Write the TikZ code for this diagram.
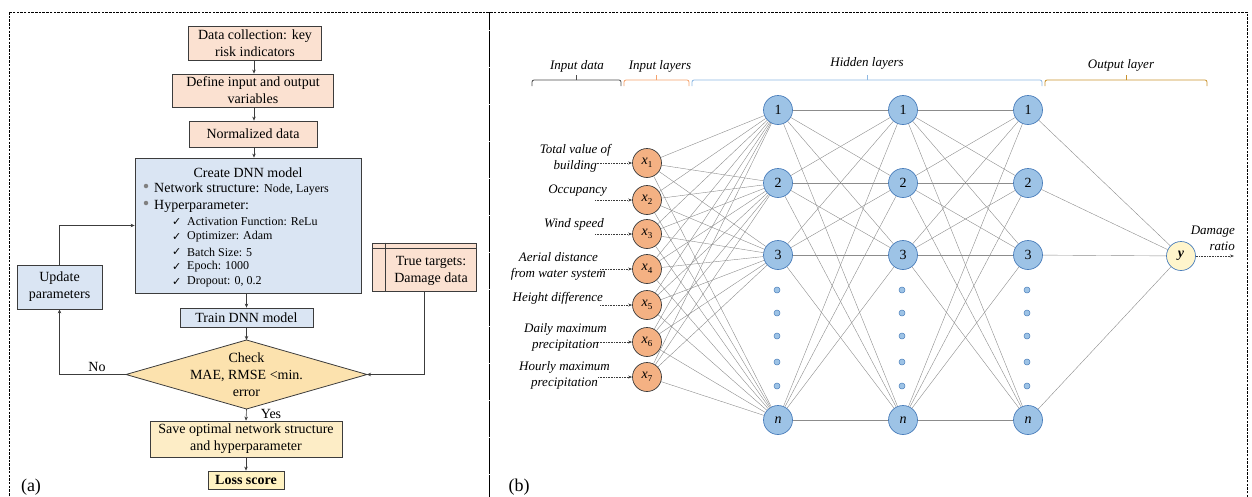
\documentclass[tikz,border=0pt]{standalone}
\usepackage{fontspec}
\setmainfont{Liberation Serif}
\newfontfamily\symfont{DejaVu Sans}
\usetikzlibrary{arrows.meta,calc}

\definecolor{peach}{HTML}{FBE1D1}
\definecolor{paleblue}{HTML}{DAE5F3}
\definecolor{gold}{HTML}{FCE2AE}
\definecolor{paleyel}{HTML}{FDEDC6}
\definecolor{lossyel}{HTML}{FFF2C2}
\definecolor{inorange}{HTML}{F4B183}
\definecolor{hidblue}{HTML}{9DC3E6}
\definecolor{hidedge}{HTML}{4A7EBB}
\definecolor{outyel}{HTML}{FFF5CC}
\definecolor{brorange}{HTML}{F5A26C}
\definecolor{brblue}{HTML}{8DB8E2}
\definecolor{brbrown}{HTML}{C8922E}
\definecolor{edgegray}{HTML}{3C3C3C}
\definecolor{wire}{HTML}{8C8C8C}
\definecolor{bulletgray}{HTML}{808080}

\tikzset{
  panel/.style={draw=black, line width=1pt, dash pattern=on 2.5pt off 1.2pt},
  fbox/.style={draw=edgegray, line width=0.8pt, inner sep=0pt, align=center,
    font=\fontsize{14}{17}\selectfont},
  txt/.style={inner sep=0pt, font=\fontsize{14}{17}\selectfont},
  small/.style={inner sep=0pt, font=\fontsize{12}{15}\selectfont},
  bul/.style={circle, fill=bulletgray, minimum size=4.5pt, inner sep=0pt},
  flow/.style={-{Stealth[length=4pt,width=3.5pt]}, draw=edgegray, line width=0.6pt},
  lab/.style={inner sep=0pt, align=center, font=\fontsize{13}{16}\selectfont\itshape},
  inp/.style={circle, draw=edgegray, fill=inorange, line width=0.7pt,
    minimum size=29pt, inner sep=0pt, font=\fontsize{14}{14}\selectfont},
  hid/.style={circle, draw=hidedge, fill=hidblue, line width=0.7pt,
    minimum size=29pt, inner sep=0pt, font=\fontsize{14}{14}\selectfont},
  outn/.style={circle, draw=hidedge, fill=outyel, line width=0.7pt,
    minimum size=29pt, inner sep=0pt, font=\fontsize{14}{14}\selectfont\bfseries\itshape},
  dotn/.style={circle, draw=hidedge, fill=hidblue, line width=0.5pt,
    minimum size=6pt, inner sep=0pt},
  conn/.style={draw=wire, line width=0.4pt},
  feed/.style={-{Stealth[length=4pt,width=3pt]}, draw=edgegray, line width=0.6pt, densely dotted},
  bracket/.style={line width=0.8pt, rounded corners=2pt},
}

\begin{document}
\begin{tikzpicture}[x=1pt,y=-1pt]
\useasboundingbox (0,0) rectangle (1252,496);

% two dashed panels
\draw[panel] (9,12) rectangle (489,499);
\draw[panel] (489,12) rectangle (1247,499);

% ---------------- (a) flowchart ----------------
\node[fbox, fill=peach, minimum width=133pt, minimum height=34pt] (b1) at (255,43)
  {Data collection: key\\risk indicators};
\node[fbox, fill=peach, minimum width=161pt, minimum height=33pt] (b2) at (253,90.5)
  {Define input and output\\variables};
\node[fbox, fill=peach, minimum width=128pt, minimum height=26pt] (b3) at (253,134)
  {Normalized data};
\node[fbox, fill=paleblue, minimum width=226pt, minimum height=135pt] (b4) at (248,225.5) {};

\node[txt] (t0) at (248,173) {Create DNN model};
\node[bul] (u1) at (146,186) {};
\node[txt, anchor=west] (t1) at (154,189) {Network structure: {\fontsize{12}{15}\selectfont Node, Layers}};
\node[bul] (u2) at (146,203) {};
\node[txt, anchor=west] (t2) at (154,206) {Hyperparameter:};
\foreach \k/\yy/\tx in {1/222/Activation Function: ReLu, 2/237/Optimizer: Adam,
    3/252/Batch Size: 5, 4/267/Epoch: 1000, 5/282/{Dropout: 0, 0.2}}{
  \node[small, anchor=west] (c\k) at (172,\yy) {{\symfont\fontsize{11}{11}\selectfont ✓}};
  \node[small, anchor=west] (h\k) at (187,\yy) {\tx};
}

\node[fbox, fill=paleblue, minimum width=85pt, minimum height=44pt] (upd) at (59.5,287)
  {Update\\parameters};
\node[fbox, fill=peach, minimum width=104pt, minimum height=48pt] (tt) at (424,267) {};
\draw[edgegray, line width=0.8pt] ([xshift=14pt]tt.north west) -- ([xshift=14pt]tt.south west);
\draw[edgegray, line width=0.8pt] ([yshift=-6pt]tt.north west) -- ([yshift=-6pt]tt.north east);
\node[txt, align=center] (ttl) at (431,270.5) {True targets:\\Damage data};

\node[fbox, fill=paleblue, minimum width=133pt, minimum height=19pt] (train) at (246.5,317.5)
  {Train DNN model};

% decision diamond
\coordinate (dL) at (126,374.5);
\coordinate (dT) at (246.5,340);
\coordinate (dR) at (367,374.5);
\coordinate (dB) at (246.5,409);
\draw[draw=edgegray, line width=0.8pt, fill=gold] (dL) -- (dT) -- (dR) -- (dB) -- cycle;
\node[txt, align=center] (dtext) at (246.5,375) {Check\\MAE, RMSE <min.\\error};

\node[fbox, fill=paleyel, minimum width=192pt, minimum height=36pt] (save) at (246,439)
  {Save optimal network structure\\and hyperparameter};
\node[fbox, fill=lossyel, minimum width=76pt, minimum height=18pt,
  font=\fontsize{14}{17}\selectfont\bfseries] (loss) at (246,480) {Loss score};

\draw[flow] (b1.south -| 254,0) -- (b2.north -| 254,0);
\draw[flow] (b2.south -| 254,0) -- (b3.north -| 254,0);
\draw[flow] (b3.south -| 254,0) -- (b4.north -| 254,0);
\draw[flow] (train.north |- b4.south) -- (train.north);
\draw[flow] (train.south) -- (dT);
\draw[flow] (dB) -- (save.north);
\draw[flow] (save.south) -- (loss.north);
\draw[flow] (dL) -| (upd.south);
\draw[flow] (upd.north) |- (b4.west);
\draw[flow] (tt.south) |- (dR);

\node[txt] (no) at (97,367) {No};
\node[txt] (yes) at (271,414) {Yes};
\node[inner sep=0pt, font=\fontsize{18}{18}\selectfont] (pa) at (31,487) {(a)};

% ---------------- (b) network ----------------
% layer brackets
\draw[bracket, black!70] (532,86) -- (532,80) -- (621,80) -- (621,86);
\draw[bracket, black!70] (576,80) -- (576,75);
\draw[bracket, brorange] (624,86) -- (624,80) -- (689,80) -- (689,86);
\draw[bracket, brorange] (656,80) -- (656,75);
\draw[bracket, brblue] (692,86) -- (692,80) -- (1042,80) -- (1042,86);
\draw[bracket, brblue] (867,80) -- (867,75);
\draw[bracket, brbrown] (1045,86) -- (1045,80) -- (1207,80) -- (1207,86);
\draw[bracket, brbrown] (1126,80) -- (1126,75);
\node[lab] (Ld) at (577,66) {Input data};
\node[lab] (Li) at (660,66) {Input layers};
\node[lab] (Lh) at (867,63) {Hidden layers};
\node[lab] (Lo) at (1121,65) {Output layer};

% input nodes
\foreach \i/\yy in {1/163,2/200,3/234,4/269,5/305,6/342,7/377}{
  \node[inp] (in\i) at (647,\yy) {{\itshape x}\raisebox{-2.5pt}{\fontsize{9}{9}\selectfont\i}};
}

% hidden layers
\foreach \c/\xx in {A/778,B/903,C/1028}{
  \node[hid] (h\c1) at (\xx,110) {1};
  \node[hid] (h\c2) at (\xx,183) {2};
  \node[hid] (h\c3) at (\xx,255) {3};
  \node[hid] (h\c n) at (\xx,420) {\itshape n};
  \foreach \k/\yy in {1/290,2/313,3/336,4/362,5/386}{
    \node[dotn] (d\c\k) at (\xx-1,\yy) {};
  }
}
\node[outn] (out) at (1181,256) {y};

% weights
\foreach \i in {1,...,7}{
  \foreach \r in {1,2,3,n}{
    \draw[conn] (in\i) -- (hA\r);
  }
}
\foreach \a/\b in {A/B,B/C}{
  \foreach \r in {1,2,3,n}{
    \foreach \s in {1,2,3,n}{
      \draw[conn] (h\a\r) -- (h\b\s);
    }
  }
}
\foreach \r in {1,2,3,n}{
  \draw[conn] (hC\r) -- (out);
}

% input labels and feeds
\node[lab, anchor=east] (l1) at (611,158) {Total value of\\building};
\node[lab, anchor=east] (l2) at (607,191) {Occupancy};
\node[lab, anchor=east] (l3) at (604,224) {Wind speed};
\node[lab, anchor=east] (l4) at (606,266) {Aerial distance\\from water system};
\node[lab, anchor=east] (l5) at (603,298) {Height difference};
\node[lab, anchor=east] (l6) at (607,337) {Daily maximum\\precipitation};
\node[lab, anchor=east] (l7) at (610,375) {Hourly maximum\\precipitation};
\foreach \i/\xs/\yy in {1/595/163,2/595/200,3/595/234,4/600/269,5/600/305,6/598/342,7/598/377}{
  \coordinate (s\i) at (\xs,\yy);
  \draw[feed] (s\i) -- (in\i);
}

\node[lab, anchor=east, align=right] (dmg) at (1235,238.5) {Damage\\ratio};
\coordinate (yend) at (1234,256);
\draw[feed] (out) -- (yend);

\node[inner sep=0pt, font=\fontsize{18}{18}\selectfont] (pb) at (519,487) {(b)};
\end{tikzpicture}
\end{document}
